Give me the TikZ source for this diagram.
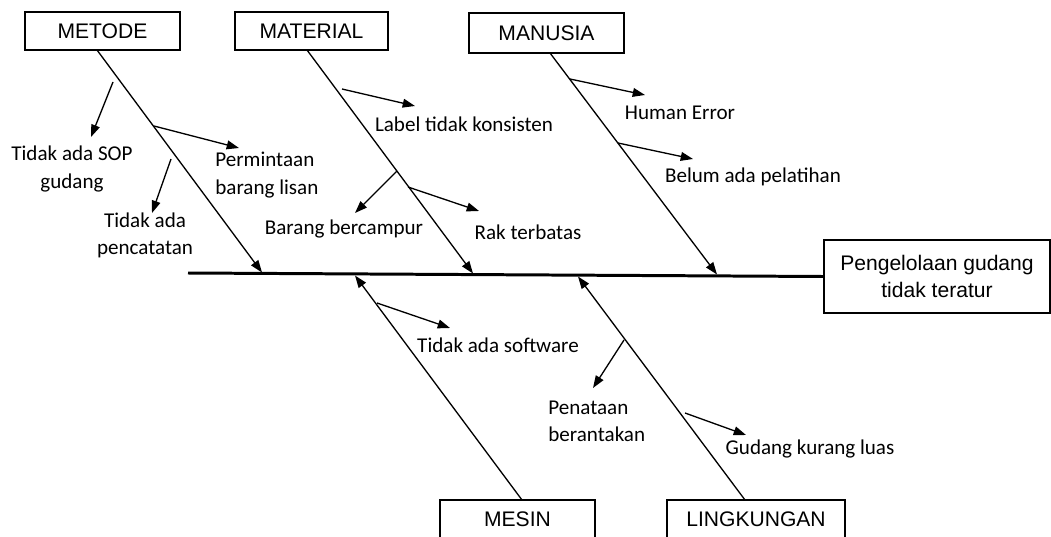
\documentclass[tikz,border=0pt]{standalone}
\usepackage{fontspec}
\setmainfont{Carlito}
\newfontfamily\boxfont{Liberation Sans}
\usetikzlibrary{arrows.meta}

\begin{document}
\begin{tikzpicture}[x=0.02cm, y=-0.02cm,
	cause/.style={draw=black, line width=0.85pt, minimum width=3.1cm, minimum height=0.76cm, inner sep=0pt, font=\boxfont\fontsize{12}{14}\selectfont},
	effect/.style={draw=black, line width=1.4pt, minimum width=4.52cm, minimum height=1.46cm, align=center, font=\boxfont\fontsize{12}{15.3}\selectfont},
	txt/.style={inner sep=0pt, align=center, font=\fontsize{12}{15.5}\selectfont},
	bone/.style={draw=black, line width=0.75pt, -{Triangle[length=7pt, width=5pt]}},
	spine/.style={draw=black, line width=1.7pt}]
				\useasboundingbox (0,0) rectangle (1051,537);
				
				\node[cause] (metode) at (102.5,31){METODE};
				\node[cause, minimum width=3.06cm] (material) at (311.5,31){MATERIAL};
				\node[cause, minimum height=0.8cm] (manusia) at (546.5,33){MANUSIA};
				\node[cause] (mesin) at (517.5,519){MESIN};
				\node[cause, minimum width=3.56cm] (lingkungan) at (756,519){LINGKUNGAN};
				\node[effect] (akibat) at (937,276.5){Pengelolaan gudang\\tidak teratur};
				
				\coordinate (ekor) at (188,273);
				\path (ekor) edge[spine] (akibat.west);
				
				\coordinate (b1) at (97,50);
				\coordinate (b2) at (307,50);
				\coordinate (b3) at (550,53);
				\coordinate (b4) at (522,500);
				\coordinate (b5) at (745,500);
				
				\coordinate (h1) at (262,272.5);
				\coordinate (h2) at (473,273.5);
				\coordinate (h3) at (717,274.5);
				\coordinate (h4) at (355,275.5);
				\coordinate (h5) at (578,276.5);
				
				\path (b1) edge[bone] (h1);
				\path (b2) edge[bone] (h2);
				\path (b3) edge[bone] (h3);
				\path (b4) edge[bone] (h4);
				\path (b5) edge[bone] (h5);
				
				\node[txt] (sop) at (72,169){Tidak ada SOP\\gudang};
				\node[txt, align=left, anchor=west] (lisan) at (215,175){Permintaan\\barang lisan};
				\node[txt] (catat) at (145,235){Tidak ada\\pencatatan};
				
				\node[txt] (konsisten) at (464,124){Label tidak konsisten};
				\node[txt] (campur) at (344,229){Barang bercampur};
				\node[txt] (rak) at (528,232){Rak terbatas};
				
				\node[txt] (error) at (680,113){Human Error};
				\node[txt] (latih) at (753,177){Belum ada pelatihan};
				
				\node[txt] (software) at (498,345){Tidak ada software};
				
				\node[txt, align=left, anchor=west] (tata) at (548,421){Penataan\\berantakan};
				\node[txt] (luas) at (810,449){Gudang kurang luas};
				
				\coordinate (s1) at (113,82);   \coordinate (e1) at (91,137);
				\coordinate (s2) at (154,126);  \coordinate (e2) at (239,148);
				\coordinate (s3) at (171,159);  \coordinate (e3) at (152,213);
				\coordinate (s4) at (342,89);   \coordinate (e4) at (415,106);
				\coordinate (s5) at (397,171);  \coordinate (e5) at (355,213);
				\coordinate (s6) at (408,187);  \coordinate (e6) at (479,211);
				\coordinate (s7) at (570,79);   \coordinate (e7) at (645,95);
				\coordinate (s8) at (618,143);  \coordinate (e8) at (693,159);
				\coordinate (s9) at (377,303);  \coordinate (e9) at (450,328);
				\coordinate (s10) at (624,340); \coordinate (e10) at (593,388);
				\coordinate (s11) at (685,413); \coordinate (e11) at (746,435);
				
				\path (s1) edge[bone] (e1);
				\path (s2) edge[bone] (e2);
				\path (s3) edge[bone] (e3);
				\path (s4) edge[bone] (e4);
				\path (s5) edge[bone] (e5);
				\path (s6) edge[bone] (e6);
				\path (s7) edge[bone] (e7);
				\path (s8) edge[bone] (e8);
				\path (s9) edge[bone] (e9);
				\path (s10) edge[bone] (e10);
				\path (s11) edge[bone] (e11);
				\end{tikzpicture}
\end{document}
